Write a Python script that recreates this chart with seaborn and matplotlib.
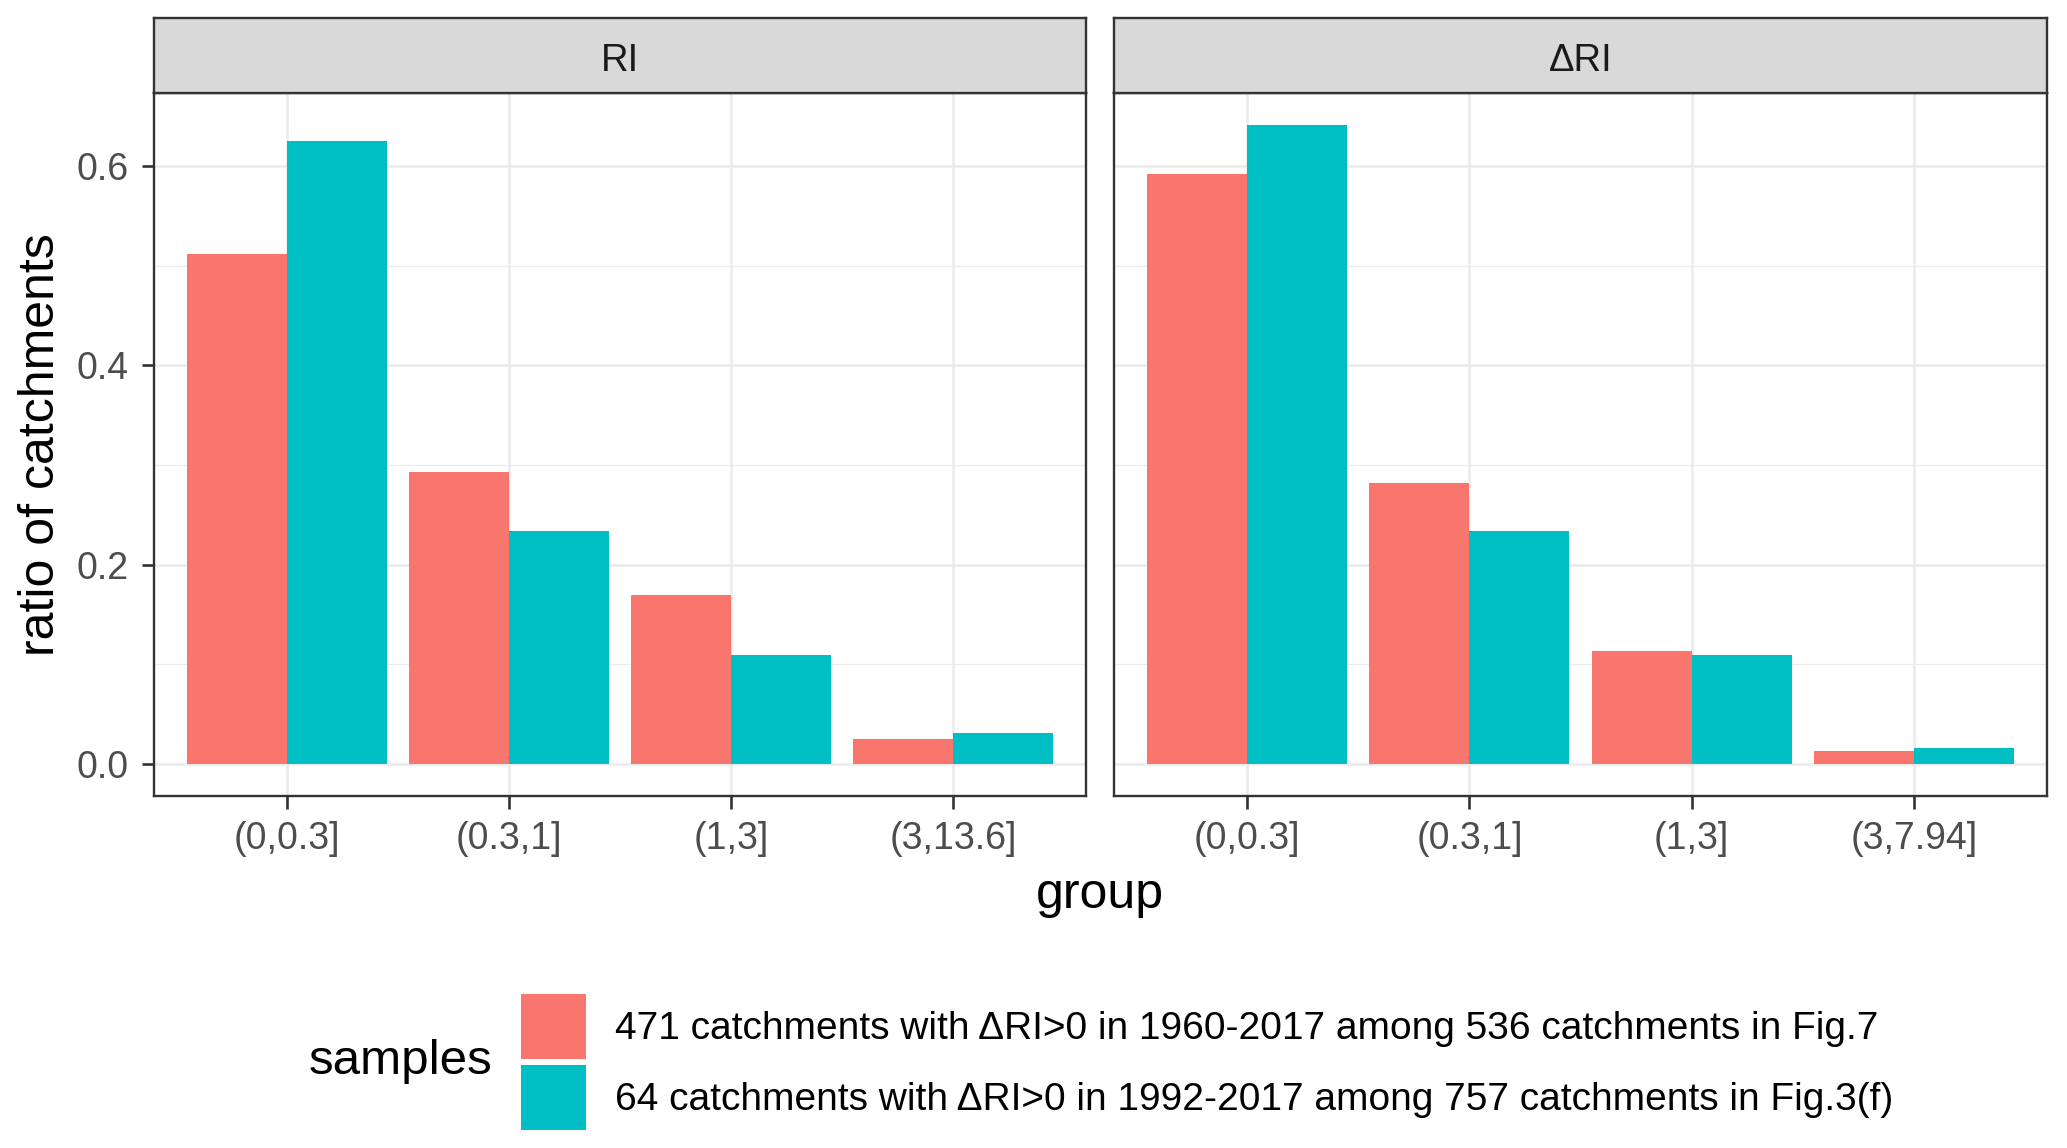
import matplotlib
matplotlib.use("Agg")
import matplotlib.pyplot as plt
import seaborn as sns
import pandas as pd

# data
facets = ["RI", "ΔRI"]
groups_ri = ["(0,0.3]", "(0.3,1]", "(1,3]", "(3,13.6]"]
groups_dri = ["(0,0.3]", "(0.3,1]", "(1,3]", "(3,7.94]"]
samples = [
    "471 catchments with ΔRI>0 in 1960-2017 among 536 catchments in Fig.7",
    "64 catchments with ΔRI>0 in 1992-2017 among 757 catchments in Fig.3(f)",
]
ri_471 = [0.512, 0.293, 0.170, 0.025]
ri_64 = [0.625, 0.234, 0.109, 0.031]
dri_471 = [0.592, 0.282, 0.113, 0.013]
dri_64 = [0.641, 0.234, 0.109, 0.016]
palette = ["#F8766D", "#00BFC4"]

rows = []
for facet, groups, a, b in [("RI", groups_ri, ri_471, ri_64),
                            ("ΔRI", groups_dri, dri_471, dri_64)]:
    for g, v in zip(groups, a):
        rows.append({"facet": facet, "group": g, "samples": samples[0], "ratio": v})
    for g, v in zip(groups, b):
        rows.append({"facet": facet, "group": g, "samples": samples[1], "ratio": v})
df = pd.DataFrame(rows)

sns.set_theme(style="white")
plt.rcParams['font.family'] = ['Liberation Sans', 'DejaVu Sans']
plt.rcParams['text.color'] = 'black'

W, H = 2067, 1148
fig = plt.figure(figsize=(W / 100, H / 100), dpi=100)
fig.patch.set_facecolor("white")


def box(x0, y0, x1, y1):
    # pixel box (top-left origin) -> figure rect
    return [x0 / W, 1 - y1 / H, (x1 - x0) / W, (y1 - y0) / H]


border = "#333333"
grid = "#EBEBEB"
panels = [(154, 1086), (1114, 2047)]
orders = [groups_ri, groups_dri]
handles, labels = None, None

for i, (facet, (x0, x1)) in enumerate(zip(facets, panels)):
    ax = fig.add_axes(box(x0, 93, x1, 796))
    sub = df[df["facet"] == facet]
    sns.barplot(data=sub, x="group", y="ratio", hue="samples", hue_order=samples,
                order=orders[i], palette=palette, width=0.9, saturation=1,
                errorbar=None, linewidth=0, ax=ax)
    if handles is None:
        handles, labels = ax.get_legend_handles_labels()
    ax.get_legend().remove()

    ax.set_xlim(-0.6, 3.6)
    ax.set_ylim(-0.0321, 0.6735)
    ax.set_yticks([0.0, 0.2, 0.4, 0.6])
    ax.set_yticks([0.1, 0.3, 0.5], minor=True)
    ax.set_yticklabels(["0.0", "0.2", "0.4", "0.6"])
    ax.set_axisbelow(True)
    ax.grid(which="major", color=grid, linewidth=1.8)
    ax.grid(which="minor", axis="y", color=grid, linewidth=0.9)
    ax.set_facecolor("white")
    for s in ax.spines.values():
        s.set_color(border)
        s.set_linewidth(1.7)
    ax.tick_params(axis="both", which="major", length=9, width=1.9, color=border,
                   labelsize=27, labelcolor="#4D4D4D", pad=9,
                   bottom=True, left=True)
    ax.tick_params(which="minor", length=0)
    if i > 0:
        ax.tick_params(axis="y", left=False, labelleft=False)
    ax.set_xlabel("")
    ax.set_ylabel("")

    # facet strip
    sax = fig.add_axes(box(x0, 18, x1, 93))
    sax.set_facecolor("#D9D9D9")
    sax.set_xticks([])
    sax.set_yticks([])
    for s in sax.spines.values():
        s.set_color(border)
        s.set_linewidth(1.7)
    sax.text(0.5, 0.43, facet, ha="center", va="center", fontsize=27.5,
             color="#1A1A1A", transform=sax.transAxes)

fig.text(41 / W, 1 - 445 / H, "ratio of catchments", rotation=90,
         ha="center", va="center", fontsize=36, color="black")
fig.text(1100 / W, 1 - 895 / H, "group", ha="center", va="center",
         fontsize=36, color="black")
fig.text(401 / W, 1 - 1062 / H, "samples", ha="center", va="center",
         fontsize=35.5, color="black")

leg = fig.legend(handles, labels, loc="center left", bbox_to_anchor=(521 / W, 1 - 1062 / H),
                 frameon=False, fontsize=28, handlelength=1.67, handleheight=2.2,
                 handletextpad=0.74, labelspacing=0.15, borderpad=0, borderaxespad=0)
for t in leg.get_texts():
    t.set_color("black")

fig.savefig("out.png", dpi=100, facecolor="white")
